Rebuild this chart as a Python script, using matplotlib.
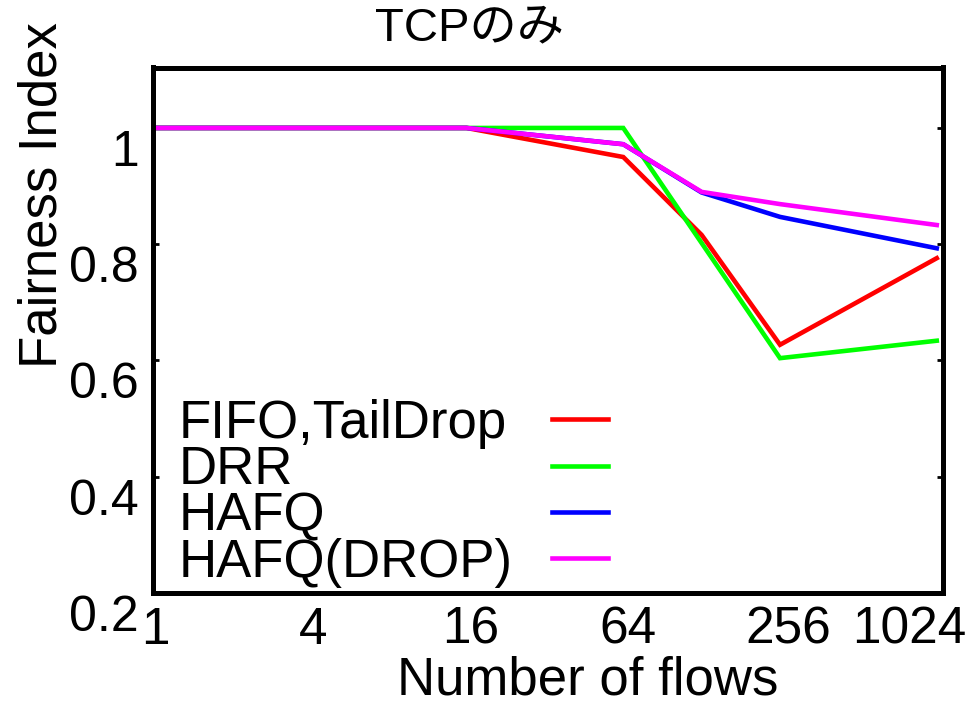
import matplotlib
matplotlib.use('Agg')
import matplotlib.pyplot as plt
import matplotlib.transforms as mtransforms
from matplotlib.lines import Line2D

plt.rcParams['font.family'] = ['Liberation Sans', 'Noto Sans CJK JP', 'DejaVu Sans']

# ---- data ----
flows = [1, 2, 4, 8, 16, 64, 128, 256, 1024]
fifo_taildrop = [1.0, 1.0, 1.0, 1.0, 1.0, 0.950, 0.816, 0.627, 0.776]
drr = [1.0, 1.0, 1.0, 1.0, 1.0, 1.0, 0.802, 0.604, 0.634]
hafq = [1.0, 1.0, 1.0, 1.0, 1.0, 0.972, 0.889, 0.847, 0.793]
hafq_drop = [1.0, 1.0, 1.0, 1.0, 1.0, 0.972, 0.890, 0.869, 0.833]

series_names = ['FIFO,TailDrop', 'DRR', 'HAFQ', 'HAFQ(DROP)']
series_colors = ['#ff0000', '#00ff00', '#0000ff', '#ff00ff']

x_ticks = [1, 4, 16, 64, 256, 1024]
x_tick_labels = ['1', '4', '16', '64', '256', '1024']
y_ticks = [0.2, 0.4, 0.6, 0.8, 1.0]
y_tick_labels = ['0.2', '0.4', '0.6', '0.8', '1']

title = 'TCPのみ'
x_label = 'Number of flows'
y_label = 'Fairness Index'

FS = 38

fig = plt.figure(figsize=(9.73, 7.04), dpi=100)
ax = fig.add_axes([153/973, 1 - 593/704, (943-153)/973, (593-67.5)/704])

all_series = [fifo_taildrop, drr, hafq, hafq_drop]
lines = []
for vals, name, col in zip(all_series, series_names, series_colors):
    ln, = ax.plot(flows, vals, color=col, lw=3.3, label=name, solid_joinstyle='miter')
    lines.append(ln)

ax.set_xscale('log', base=2)
ax.set_xlim(1, 1082)
ax.set_ylim(0.2, 1.104)
ax.set_xticks(x_ticks)
ax.set_xticklabels(x_tick_labels)
ax.minorticks_off()
ax.set_yticks(y_ticks)
ax.set_yticklabels(y_tick_labels)

for s in ax.spines.values():
    s.set_linewidth(3.6)

ax.tick_params(axis='x', length=0, labelsize=37, pad=9)
ax.tick_params(axis='y', direction='in', length=4, width=2, labelsize=36, pad=10,
               right=True)

# gnuplot-like label offsets
for lbl in ax.get_yticklabels():
    lbl.set_transform(lbl.get_transform() +
                      mtransforms.ScaledTranslation(0, -20/100, fig.dpi_scale_trans))
xl = ax.get_xticklabels()
x_shift_px = [2, 3, 4, 5, 8, -28]
for lbl, dxp in zip(xl, x_shift_px):
    lbl.set_transform(lbl.get_transform() +
                      mtransforms.ScaledTranslation(dxp/100, 0, fig.dpi_scale_trans))

ax.set_xlabel(x_label, fontsize=FS)
ax.xaxis.set_label_coords(0.55, -0.118)
ax.set_ylabel(y_label, fontsize=FS)
ax.yaxis.set_label_coords(-0.108, 0.757)

fig.text(470/973, 1 - 28/704, title, ha='center', va='center', fontsize=34)

# legend: text column and sample column (gnuplot style)
blank = [Line2D([], [], lw=0) for _ in series_names]
leg1 = ax.legend(blank, series_names, loc='center left', bbox_to_anchor=(0.033, 0.19),
                 frameon=False, fontsize=FS, handlelength=0, handletextpad=0,
                 borderpad=0, borderaxespad=0, labelspacing=-0.07)
ax.add_artist(leg1)
ax.legend(lines, [' '] * len(lines), loc='center left', bbox_to_anchor=(0.505, 0.19),
          frameon=False, fontsize=FS, handlelength=1.06, handletextpad=0,
          borderpad=0, borderaxespad=0, labelspacing=-0.07)

fig.savefig('out.png', dpi=100)
